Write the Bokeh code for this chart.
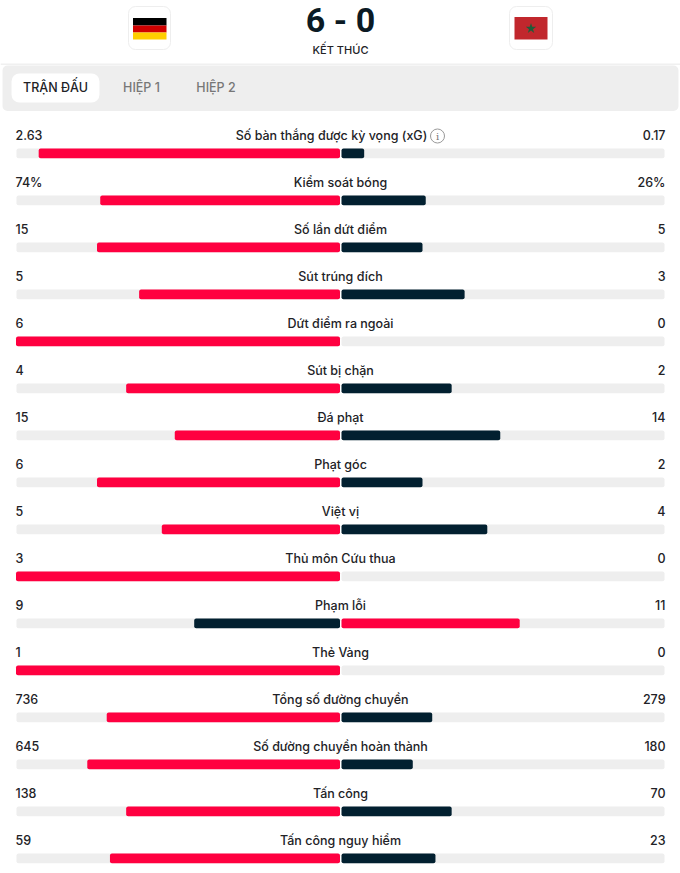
from bokeh.plotting import figure
from bokeh.models import Range1d
from bokeh.core.properties import value
from bokeh.embed import file_html
from bokeh.resources import INLINE

stat_names = ["Số bàn thắng được kỳ vọng (xG)", "Kiểm soát bóng", "Số lần dứt điểm", "Sút trúng đích",
              "Dứt điểm ra ngoài", "Sút bị chặn", "Đá phạt", "Phạt góc", "Việt vị", "Thủ môn Cứu thua",
              "Phạm lỗi", "Thẻ Vàng", "Tổng số đường chuyền", "Số đường chuyền hoàn thành", "Tấn công",
              "Tấn công nguy hiểm"]
home_labels = ["2.63", "74%", "15", "5", "6", "4", "15", "6", "5", "3", "9", "1", "736", "645", "138", "59"]
away_labels = ["0.17", "26%", "5", "3", "0", "2", "14", "2", "4", "0", "11", "0", "279", "180", "70", "23"]
home_values = [2.63, 74, 15, 5, 6, 4, 15, 6, 5, 3, 9, 1, 736, 645, 138, 59]
away_values = [0.17, 26, 5, 3, 0, 2, 14, 2, 4, 0, 11, 0, 279, 180, 70, 23]
score_text = "6 - 0"
status_text = "KẾT THÚC"
tab_labels = ["TRẬN ĐẤU", "HIỆP 1", "HIỆP 2"]

RED, DARK, TRACK, INK = "#ff0040", "#022030", "#eeeeee", "#222226"
FONT = value("Inter Medium")
W, H = 680, 873
CX, HALF, ROW, Y0 = 340, 324, 47, 148

p = figure(width=W, height=H, x_range=Range1d(0, W), y_range=Range1d(H, 0),
           output_backend="svg", toolbar_location=None, min_border=0,
           margin=(0, 0, 0, 0))
p.axis.visible = False
p.grid.visible = False
p.outline_line_color = None
p.background_fill_color = "white"

# header
p.quad(left=[128, 509], right=[170, 552], top=[6, 6], bottom=[49, 49], fill_color="white",
       line_color="#eeeeee", line_width=1, border_radius=7)
p.quad(left=[132.5] * 3, right=[166] * 3, top=[17.5, 25, 32], bottom=[25, 32, 39],
       fill_color=["#000000", "#d00000", "#ffce00"], line_color=None)
p.quad(left=[514], right=[547], top=[16.5], bottom=[39], fill_color="#c1272d", line_color=None)
p.scatter(x=[530.5], y=[28], marker="star", size=11, fill_color="#1f5c38", line_color=None)
p.text(x=[CX], y=[19.5], text=[score_text], text_font=value("Roboto"), text_font_style="bold", text_font_size="34px",
       text_color="#0b1a24", text_align="center", text_baseline="middle")
p.text(x=[CX], y=[49], text=[status_text], text_font=FONT, text_font_size="11px",
       text_color=INK, text_align="center", text_baseline="middle")
p.quad(left=[0], right=[W], top=[63], bottom=[64.5], fill_color="#f0f0f0", line_color=None)

# tabs
p.quad(left=[2], right=[678], top=[65], bottom=[110.5], fill_color=TRACK, line_color=None, border_radius=5)
p.quad(left=[11], right=[99], top=[73], bottom=[102], fill_color="white", line_color=None, border_radius=8)
p.text(x=[55, 141, 215.5], y=[87] * 3, text=tab_labels, text_font=FONT, text_font_size="12.5px",
       text_color=[INK, "#777777", "#777777"], text_align="center", text_baseline="middle")

# stats: the bars show the home share rounded down to a whole percent
n = len(stat_names)
tops = [Y0 + ROW * i for i in range(n)]
bottoms = [t + 9.7 for t in tops]
lefts, rights, colors_l, colors_r = [], [], [], []
for h, a in zip(home_values, away_values):
    share = int(100 * h / (h + a) + 1e-9) / 100
    lefts.append(CX - 0.5 - HALF * share)
    rights.append(CX + 1 + HALF * (1 - share))
    colors_l.append(RED if h >= a else DARK)
    colors_r.append(RED if a > h else DARK)

p.quad(left=[16] * n, right=[CX - 0.5] * n, top=tops, bottom=bottoms, fill_color=TRACK, line_color=None, border_radius=2)
p.quad(left=[CX + 1] * n, right=[664] * n, top=tops, bottom=bottoms, fill_color=TRACK, line_color=None, border_radius=2)
p.quad(left=lefts, right=[CX - 0.5] * n, top=tops, bottom=bottoms, fill_color=colors_l, line_color=None, border_radius=2)
keep = [i for i in range(n) if away_values[i] > 0]
p.quad(left=[CX + 1] * len(keep), right=[rights[i] for i in keep], top=[tops[i] for i in keep],
       bottom=[bottoms[i] for i in keep], fill_color=[colors_r[i] for i in keep], line_color=None, border_radius=2)

label_y = [t - 13.5 for t in tops]
common = dict(text_font=FONT, text_font_size="12.5px", text_color=INK, text_baseline="middle")
p.text(x=[15] * n, y=label_y, text=home_labels, text_align="left", **common)
p.text(x=[665] * n, y=label_y, text=away_labels, text_align="right", **common)
label_x = [CX] * n
label_x[0] = 331
p.text(x=label_x, y=label_y, text=stat_names, text_align="center", **common)

# info icon
p.scatter(x=[437], y=[135.5], marker="circle", size=14, fill_color="white", line_color="#999999", line_width=1)
p.text(x=[437], y=[136], text=["i"], text_font=value("DejaVu Serif"), text_font_size="10px", text_color="#777777",
       text_align="center", text_baseline="middle")

open("out.html", "w").write(file_html(p, INLINE))
